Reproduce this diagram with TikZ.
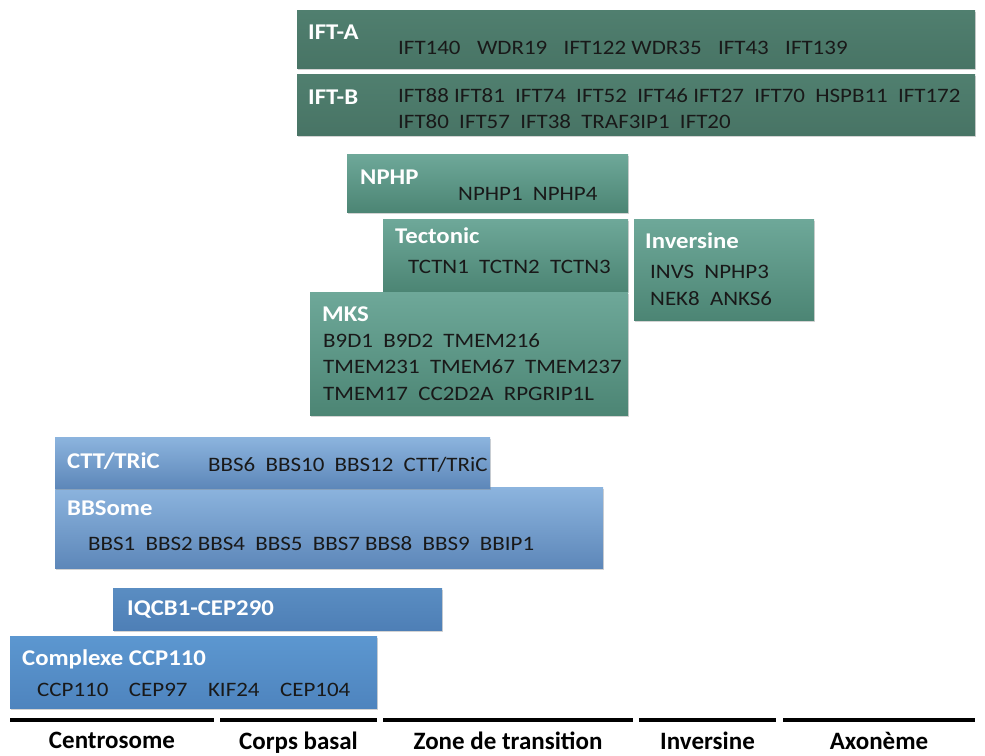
\documentclass[tikz,border=0pt]{standalone}
\usepackage{fontspec}
\setmainfont{Carlito}
\newfontfamily\titlefont[FakeStretch=1.1]{Carlito}
\newfontfamily\memberfont[FakeStretch=1.12]{Carlito}
\usetikzlibrary{positioning,shadows}
\definecolor{iftgreen}{RGB}{80,127,111}
\definecolor{iftgreendark}{RGB}{72,116,101}
\definecolor{tealtop}{RGB}{110,168,153}
\definecolor{tealbot}{RGB}{76,133,116}
\definecolor{skytop}{RGB}{140,180,222}
\definecolor{skybot}{RGB}{93,135,185}
\definecolor{midblue}{RGB}{90,141,194}
\definecolor{midbluedark}{RGB}{78,127,182}
\definecolor{ccptop}{RGB}{92,151,208}
\definecolor{ccpbot}{RGB}{78,132,190}
\newcommand{\gap}{\hspace{.8em}}
\begin{document}
\begin{tikzpicture}[x=1pt, y=-1pt, node distance=10pt,
    grbox/.style={rectangle, draw=none, anchor=north west, inner sep=0pt,
                  drop shadow={opacity=0.35, shadow xshift=1pt, shadow yshift=-2pt}},
    ift/.style={top color=iftgreen, bottom color=iftgreendark},
    teal/.style={top color=tealtop, bottom color=tealbot},
    sky/.style={top color=skytop, bottom color=skybot},
    iqcb/.style={top color=midblue, bottom color=midbluedark},
    ccp/.style={top color=ccptop, bottom color=ccpbot},
    title/.style={inner sep=0pt, text=white, font=\titlefont\bfseries\fontsize{22.5}{26}\selectfont},
    members/.style={inner sep=0pt, text=black!90, align=left, font=\memberfont\fontsize{20.5}{26.7}\selectfont},
    zone/.style={line width=4.5pt, black},
    zonelabel/.style={inner sep=0pt, font=\bfseries\fontsize{25}{28}\selectfont}]

  \useasboundingbox (0,0) rectangle (985,755);

  \node[grbox, ift, minimum width=678pt, minimum height=58pt] (ifta) at (297,10) {};
  \node[title] (iftat) [below right=15pt and 11pt of ifta.north west] {IFT-A};
  \node[members] (iftam) [below right=31pt and 101pt of ifta.north west] {IFT140\gap WDR19\gap IFT122 WDR35\gap IFT43\gap IFT139};

  \node[grbox, ift, minimum width=678pt, minimum height=61pt] (iftb) at (297,74) {};
  \node[title] (iftbt) [below right=16pt and 11pt of iftb.north west] {IFT-B};
  \node[members] (iftbm) [below right=14pt and 101pt of iftb.north west] {IFT88 IFT81\enspace IFT74\enspace IFT52\enspace IFT46 IFT27\enspace IFT70\enspace HSPB11\enspace IFT172\\IFT80\enspace IFT57\enspace IFT38\enspace TRAF3IP1\enspace IFT20};

  \node[grbox, teal, minimum width=281pt, minimum height=58pt] (nphp) at (347,154) {};
  \node[title] (nphpt) [below right=16pt and 13pt of nphp.north west] {NPHP};
  \node[members] (nphpm) [below right=33pt and 111pt of nphp.north west] {NPHP1\enspace NPHP4};

  \node[grbox, teal, minimum width=245pt, minimum height=72pt] (tect) at (383,219) {};
  \node[title] (tectt) [below right=9pt and 12pt of tect.north west] {Tectonic};
  \node[members] (tectm) [below right=41pt and 25pt of tect.north west] {TCTN1\enspace TCTN2\enspace TCTN3};

  \node[grbox, teal, minimum width=180pt, minimum height=101pt] (inv) at (634,219) {};
  \node[title] (invt) [below right=14pt and 11pt of inv.north west] {Inversine};
  \node[members] (invm) [below right=46pt and 16pt of inv.north west] {INVS\enspace NPHP3\\NEK8\enspace ANKS6};

  \node[grbox, teal, minimum width=318pt, minimum height=123pt] (mks) at (310,292) {};
  \node[title] (mkst) [below right=15pt and 12pt of mks.north west] {MKS};
  \node[members] (mksm) [below right=41pt and 13pt of mks.north west] {B9D1\enspace B9D2\enspace TMEM216\\TMEM231\enspace TMEM67\enspace TMEM237\\TMEM17\enspace CC2D2A\enspace RPGRIP1L};

  \node[grbox, sky, minimum width=548pt, minimum height=81pt] (bbs) at (55,487) {};
  \node[title] (bbst) [below right=14pt and 12pt of bbs.north west] {BBSome};
  \node[members] (bbsm) [below right=49pt and 33pt of bbs.north west] {BBS1\enspace BBS2 BBS4\enspace BBS5\enspace BBS7 BBS8\enspace BBS9\enspace BBIP1};

  \node[grbox, sky, minimum width=435pt, minimum height=51pt] (cct) at (55,437) {};
  \node[title] (cctt) [below right=16pt and 12pt of cct.north west] {CTT/TRiC};
  \node[members] (cctm) [below right=20pt and 153pt of cct.north west] {BBS6\enspace BBS10\enspace BBS12\enspace CTT/TRiC};

  \node[grbox, iqcb, minimum width=329pt, minimum height=42pt] (iqcb) at (113,588) {};
  \node[title] (iqcbt) [below right=13pt and 14pt of iqcb.north west] {IQCB1-CEP290};

  \node[grbox, ccp, minimum width=367pt, minimum height=72pt] (ccp) at (10,636) {};
  \node[title] (ccpt) [below right=14pt and 12pt of ccp.north west] {Complexe CCP110};
  \node[members] (ccpm) [below right=47pt and 27pt of ccp.north west] {CCP110\quad CEP97\quad KIF24\quad CEP104};

  \draw[zone] (10,720) -- node[zonelabel, below=10pt] (centro) {Centrosome} (214,720);
  \draw[zone] (220,720) -- node[zonelabel, below=10pt] (corps) {Corps basal} (377,720);
  \draw[zone] (383,720) -- node[zonelabel, below=10pt] (trans) {Zone de transition} (633,720);
  \draw[zone] (639,720) -- node[zonelabel, below=10pt] (invz) {Inversine} (776,720);
  \draw[zone] (783,720) -- node[zonelabel, below=10pt] (axo) {Axonème} (975,720);

\end{tikzpicture}
\end{document}
